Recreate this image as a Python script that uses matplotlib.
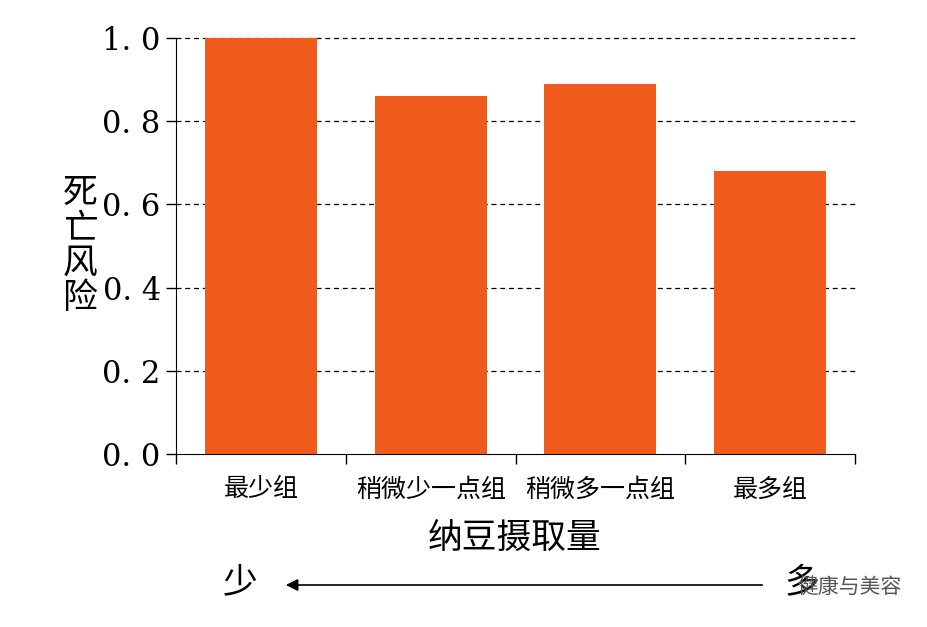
import matplotlib
matplotlib.use("Agg")
import matplotlib.pyplot as plt

plt.rcParams['font.family'] = ['Noto Sans CJK SC', 'DejaVu Sans']

groups = ["最少组", "稍微少一点组", "稍微多一点组", "最多组"]
risk = [1.0, 0.86, 0.89, 0.68]
yticks = [0.0, 0.2, 0.4, 0.6, 0.8, 1.0]

fig = plt.figure(figsize=(9.28, 6.27), dpi=100)
ax = fig.add_axes([176/928, 1-454/627, 679/928, 416/627])

ax.bar(range(len(groups)), risk, width=0.66, color="#F05A1A", zorder=2)
ax.set_xlim(-0.5, 3.5)
ax.set_ylim(0, 1.0)

for y in yticks[1:]:
    ax.axhline(y, color="black", lw=0.9, ls=(0, (4, 3)), zorder=1, clip_on=False)

ax.set_yticks(yticks)
ax.set_yticklabels([f"{v:.1f}".replace(".", ". ") for v in yticks],
                   family="DejaVu Serif", fontsize=22)
ax.tick_params(axis="y", direction="out", length=7, width=1, pad=4)

ax.set_xticks([-0.5, 0.5, 1.5, 2.5, 3.5])
ax.set_xticklabels([])
ax.tick_params(axis="x", direction="out", length=7, width=1)
for i, g in enumerate(groups):
    ax.text(i, -0.085, g, ha="center", va="center", fontsize=18, clip_on=False)

for s in ["top", "right"]:
    ax.spines[s].set_visible(False)

fig.text(80/928, 1-246/627, "死\n亡\n风\n险", ha="center", va="center", fontsize=25, linespacing=1.0)
fig.text(515/928, 1-538/627, "纳豆摄取量", ha="center", va="center", fontsize=25)
fig.text(240/928, 1-583/627, "少", ha="center", va="center", fontsize=25)
fig.text(802/928, 1-583/627, "多", ha="center", va="center", fontsize=25)
fig.add_artist(matplotlib.patches.FancyArrowPatch(
    (765/928, 1-585/627), (283/928, 1-585/627), transform=fig.transFigure,
    arrowstyle="-|>", mutation_scale=18, color="black", lw=1.2))
fig.text(850/928, 1-587/627, "健康与美容", ha="center", va="center", fontsize=15, color="#555555")

fig.savefig("out.png", dpi=100)
